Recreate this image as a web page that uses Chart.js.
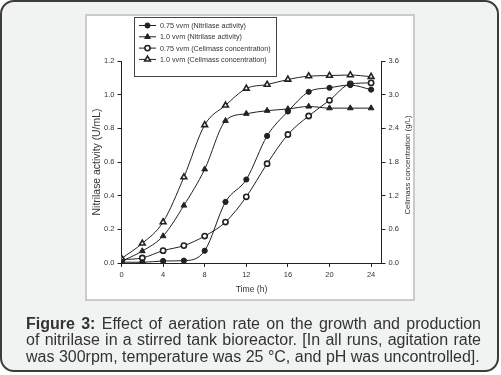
<!DOCTYPE html>
<html>
<head>
<meta charset="utf-8">
<script src="https://cdn.jsdelivr.net/npm/chart.js@4.4.1/dist/chart.umd.min.js"></script>
<style>
  html, body { margin: 0; padding: 0; background: #ffffff; }
  body { width: 501px; height: 375px; position: relative; overflow: hidden; font-family: "Liberation Sans", Arial, sans-serif; }
  .frame {
    position: absolute; left: 0; top: 0; width: 495px; height: 368px;
    background: #f1f2f2; border: 2px solid #3c3c3c; border-radius: 14px;
  }
  .panel {
    position: absolute; left: 85px; top: 14px; width: 326px; height: 283px;
    background: #ffffff; border: 2px solid #cbcbcb;
  }
  .caption {
    position: absolute; left: 26px; top: 315.5px; width: 455px;
    font-size: 16px; line-height: 16.8px; color: #333333;
  }
  .caption .full { text-align: justify; text-align-last: justify; white-space: nowrap; }
  .caption b { color: #333333; }
  #chart { position: absolute; left: 0; top: 0; }
</style>
</head>
<body>
<div class="frame"></div>
<div class="panel"></div>
<canvas id="chart" width="501" height="375"></canvas>
<div class="caption">
  <div class="full"><b>Figure 3:</b> Effect of aeration rate on the growth and production</div>
  <div class="full">of nitrilase in a stirred tank bioreactor. [In all runs, agitation rate</div>
  <div>was 300rpm, temperature was 25 °C, and pH was uncontrolled].</div>
</div>

<script>
// ===== Data =====
const timeH = [0, 2, 4, 6, 8, 10, 12, 14, 16, 18, 20, 22, 24];
const activity075 = [0.005, 0.004, 0.012, 0.014, 0.073, 0.363, 0.496, 0.755, 0.90, 1.017, 1.041, 1.057, 1.03];
const activity10 = [0.01, 0.071, 0.16, 0.342, 0.557, 0.845, 0.887, 0.905, 0.915, 0.93, 0.92, 0.92, 0.92];
const cellmass075 = [0.06, 0.09, 0.22, 0.31, 0.48, 0.73, 1.18, 1.77, 2.29, 2.62, 2.90, 3.19, 3.21];
const cellmass10 = [0.08, 0.35, 0.73, 1.53, 2.46, 2.81, 3.11, 3.18, 3.27, 3.33, 3.34, 3.35, 3.32];

const seriesLabels = [
  '0.75 vvm (Nitrilase activity)',
  '1.0 vvm (Nitrilase activity)',
  '0.75 vvm (Cellmass concentration)',
  '1.0 vvm (Cellmass concentration)'
];
const leftTicks = [0, 0.2, 0.4, 0.6, 0.8, 1.0, 1.2];
const rightTicks = [0, 0.6, 1.2, 1.8, 2.4, 3.0, 3.6];
const timeTicks = [0, 4, 8, 12, 16, 20, 24];

const ink = '#222222';
const textColor = '#333333';
const fontFamily = '"Liberation Sans", Arial, sans-serif';

const toPoints = ys => timeH.map((t, i) => ({ x: t, y: ys[i] }));

function makeSeries(label, ys, axis, style, filled) {
  return {
    label: label,
    data: toPoints(ys),
    yAxisID: axis,
    borderColor: ink,
    borderWidth: 1,
    cubicInterpolationMode: 'monotone',
    pointStyle: style,
    pointRadius: style === 'triangle' ? 3.3 : 2.6,
    pointBorderWidth: filled ? 1 : 1.6,
    pointBorderColor: ink,
    pointBackgroundColor: filled ? ink : '#ffffff',
    fill: false
  };
}

// ===== Custom legend box + right axis title =====
const extrasPlugin = {
  id: 'extras',
  afterDraw(chart) {
    const ctx = chart.ctx;
    ctx.save();
    // legend box
    ctx.strokeStyle = '#444444';
    ctx.lineWidth = 1;
    ctx.strokeRect(134.5, 17.5, 142, 59);
    ctx.font = '7.2px ' + fontFamily;
    ctx.textBaseline = 'middle';
    chart.data.datasets.forEach((ds, i) => {
      const y = 25.5 + i * 11.3;
      ctx.strokeStyle = ink;
      ctx.lineWidth = 1;
      ctx.beginPath();
      ctx.moveTo(139, y);
      ctx.lineTo(156, y);
      ctx.stroke();
      ctx.fillStyle = ds.pointBackgroundColor;
      ctx.strokeStyle = ds.pointBorderColor;
      ctx.lineWidth = ds.pointBorderWidth;
      Chart.helpers.drawPoint(ctx, { pointStyle: ds.pointStyle, radius: ds.pointRadius, borderWidth: ds.pointBorderWidth, rotation: 0 }, 147.5, y);
      ctx.fillStyle = textColor;
      ctx.fillText(ds.label, 160, y + 0.5);
    });
    // right axis title, reading bottom to top
    const area = chart.chartArea;
    ctx.translate(408, (area.top + area.bottom) / 2 + 3);
    ctx.rotate(-Math.PI / 2);
    ctx.font = '7.8px ' + fontFamily;
    ctx.fillStyle = textColor;
    ctx.textAlign = 'center';
    ctx.textBaseline = 'middle';
    ctx.fillText('Cellmass concentration (g/L)', 0, 0);
    ctx.restore();
  }
};

const axisGrid = { display: true, drawOnChartArea: false, drawTicks: true, tickLength: 4, tickColor: ink, tickWidth: 1 };
const axisBorder = { display: true, color: ink, width: 1 };
const tickFont = { family: fontFamily, size: 7.5 };

new Chart(document.getElementById('chart'), {
  type: 'line',
  data: {
    datasets: [
      makeSeries(seriesLabels[0], activity075, 'y', 'circle', true),
      makeSeries(seriesLabels[1], activity10, 'y', 'triangle', true),
      makeSeries(seriesLabels[2], cellmass075, 'y1', 'circle', false),
      makeSeries(seriesLabels[3], cellmass10, 'y1', 'triangle', false)
    ]
  },
  options: {
    responsive: false,
    animation: false,
    devicePixelRatio: 1,
    layout: { padding: { left: 86, right: 87, top: 61, bottom: 76 } },
    plugins: { legend: { display: false }, tooltip: { enabled: false } },
    scales: {
      x: {
        type: 'linear',
        min: 0,
        max: 25,
        afterFit: s => { s.height = 36; },
        afterBuildTicks: s => { s.ticks = timeTicks.map(v => ({ value: v })); },
        grid: axisGrid,
        border: axisBorder,
        ticks: { color: textColor, font: tickFont, padding: 3, maxRotation: 0 },
        title: { display: true, text: 'Time (h)', color: textColor, font: { family: fontFamily, size: 8.6 }, padding: { top: 0, bottom: 4 } }
      },
      y: {
        position: 'left',
        min: 0,
        max: 1.2,
        afterFit: s => { s.width = 35.5; },
        afterBuildTicks: s => { s.ticks = leftTicks.map(v => ({ value: v })); },
        grid: axisGrid,
        border: axisBorder,
        ticks: { color: textColor, font: tickFont, padding: 3, callback: v => v.toFixed(1) },
        title: { display: true, text: 'Nitrilase activity (U/mL)', color: textColor, font: { family: fontFamily, size: 10.4 }, padding: { top: 4.8, bottom: 0 } }
      },
      y1: {
        position: 'right',
        min: 0,
        max: 3.6,
        afterFit: s => { s.width = 32.5; },
        afterBuildTicks: s => { s.ticks = rightTicks.map(v => ({ value: v })); },
        grid: axisGrid,
        border: axisBorder,
        ticks: { color: textColor, font: tickFont, padding: 3, callback: v => v.toFixed(1) }
      }
    }
  },
  plugins: [extrasPlugin]
});
</script>
</body>
</html>
